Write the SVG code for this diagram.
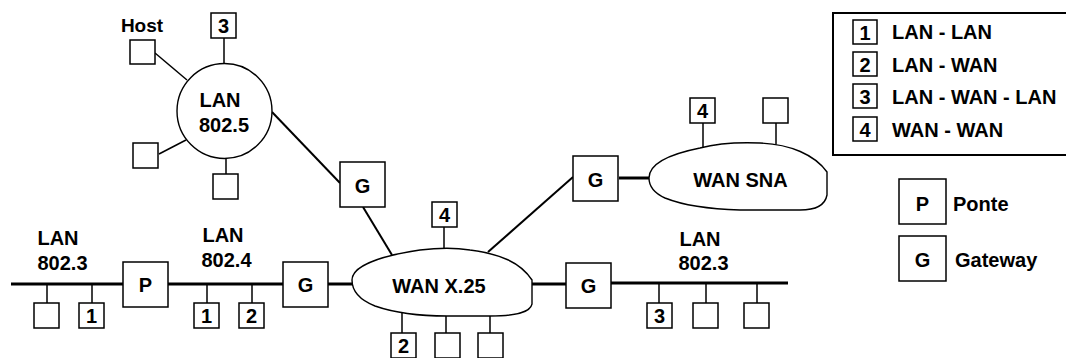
<svg xmlns="http://www.w3.org/2000/svg" width="1066" height="358" viewBox="0 0 1066 358">
<style>
text{font-family:"Liberation Sans",Arial,sans-serif;font-weight:bold;font-size:20px;fill:#000}
.c{text-anchor:middle}
.box{fill:#fff;stroke:#000;stroke-width:1.5}
.stub{stroke:#000;stroke-width:1.5;fill:none}
.bus{stroke:#000;stroke-width:3;fill:none}
.link{stroke:#000;stroke-width:2;fill:none}
.net{fill:#fff;stroke:#000;stroke-width:1.4}
</style>
<rect width="1066" height="358" fill="#fff"/>
<g id="connectors">
<line class="stub" x1="224" y1="38" x2="224" y2="63"/>
<line class="stub" x1="155" y1="53" x2="187" y2="80"/>
<line class="stub" x1="159" y1="154" x2="186" y2="140"/>
<line class="stub" x1="226" y1="159" x2="226" y2="174"/>
<line class="stub" x1="47" y1="284" x2="47" y2="303"/>
<line class="stub" x1="92" y1="284" x2="92" y2="303"/>
<line class="stub" x1="207" y1="284" x2="207" y2="303"/>
<line class="stub" x1="252" y1="284" x2="252" y2="303"/>
<line class="stub" x1="444" y1="227" x2="444" y2="249"/>
<line class="stub" x1="402" y1="313" x2="402" y2="333"/>
<line class="stub" x1="446" y1="315" x2="446" y2="333"/>
<line class="stub" x1="490" y1="315" x2="490" y2="333"/>
<line class="stub" x1="703" y1="123" x2="703" y2="148"/>
<line class="stub" x1="776" y1="123" x2="776" y2="145"/>
<line class="stub" x1="659" y1="283" x2="659" y2="303"/>
<line class="stub" x1="706" y1="283" x2="706" y2="303"/>
<line class="stub" x1="757" y1="283" x2="757" y2="303"/>
<line class="bus" x1="11" y1="284" x2="123" y2="284"/>
<line class="bus" x1="168" y1="284" x2="283" y2="284"/>
<line class="bus" x1="328" y1="284" x2="353" y2="284"/>
<line class="bus" x1="531" y1="284" x2="566" y2="284"/>
<line class="bus" x1="611" y1="283" x2="788" y2="283"/>
<line class="bus" x1="619" y1="178" x2="650" y2="178"/>
<line class="link" x1="272" y1="112" x2="340" y2="183"/>
<line class="link" x1="363" y1="207" x2="392" y2="255"/>
<line class="link" x1="488" y1="252" x2="573" y2="177"/>
</g>
<g id="lan8025">
<circle class="net" cx="224.5" cy="111" r="47.5"/>
<text class="c" x="220" y="107">LAN</text>
<text class="c" x="224" y="132">802.5</text>
</g>
<g id="host">
<text class="c" x="142" y="32" style="font-size:19px">Host</text>
<rect class="box" x="130" y="40" width="25" height="24"/>
</g>
<g id="ring-station-3"><rect class="box" x="211" y="13" width="25" height="25"/><text class="c" x="223.5" y="33">3</text></g>
<g id="ring-station-a"><rect class="box" x="133" y="143" width="25" height="25"/></g>
<g id="ring-station-b"><rect class="box" x="213" y="174" width="25" height="25"/></g>
<g id="gateway-ring"><rect class="box" x="340" y="162" width="45" height="45"/><text class="c" x="362.5" y="193">G</text></g>
<g id="lan8023-left-label"><text class="c" x="58" y="245">LAN</text><text class="c" x="62.5" y="270">802.3</text></g>
<g id="lan8024-label"><text class="c" x="223" y="242">LAN</text><text class="c" x="226.5" y="267">802.4</text></g>
<g id="lan8023-right-label"><text class="c" x="700" y="246">LAN</text><text class="c" x="703.5" y="270">802.3</text></g>
<g id="station-l1"><rect class="box" x="34" y="303" width="25" height="25"/></g>
<g id="station-l2"><rect class="box" x="79" y="303" width="25" height="25"/><text class="c" x="91.5" y="323">1</text></g>
<g id="bridge"><rect class="box" x="123" y="262" width="45" height="45"/><text class="c" x="145.5" y="292">P</text></g>
<g id="station-m1"><rect class="box" x="194" y="303" width="25" height="25"/><text class="c" x="206.5" y="323">1</text></g>
<g id="station-m2"><rect class="box" x="239" y="303" width="25" height="25"/><text class="c" x="251.5" y="323">2</text></g>
<g id="gateway-8024"><rect class="box" x="283" y="262" width="45" height="45"/><text class="c" x="305.5" y="292">G</text></g>
<g id="wan-x25">
<path class="net" d="M352,280 C352,266 380,256 420,250 C436,248 452,247 470,250 C500,254 520,262 532,280 L532,304 C530,313 515,316 490,316 L447,316 C420,316 395,313 375,306 C360,300 352,292 352,280 Z"/>
<text class="c" x="439" y="293">WAN X.25</text>
</g>
<g id="x25-station-4"><rect class="box" x="432" y="202" width="25" height="25"/><text class="c" x="444.5" y="222">4</text></g>
<g id="x25-station-2"><rect class="box" x="391" y="333" width="25" height="25"/><text class="c" x="403.5" y="353">2</text></g>
<g id="x25-station-a"><rect class="box" x="435" y="333" width="25" height="25"/></g>
<g id="x25-station-b"><rect class="box" x="478" y="333" width="25" height="25"/></g>
<g id="gateway-sna"><rect class="box" x="573" y="156" width="45" height="45"/><text class="c" x="595.5" y="187">G</text></g>
<g id="wan-sna">
<path class="net" d="M649,178 C649,165 665,155 700,148 C715,144 735,142 760,143 C790,144 815,155 827,172 L827,195 C825,206 815,210 800,210 L740,210 C705,209 680,204 665,198 C654,193 649,186 649,178 Z"/>
<text class="c" x="740.5" y="187">WAN SNA</text>
</g>
<g id="sna-station-4"><rect class="box" x="690" y="98" width="25" height="25"/><text class="c" x="702.5" y="118">4</text></g>
<g id="sna-station-a"><rect class="box" x="763" y="98" width="25" height="25"/></g>
<g id="gateway-8023"><rect class="box" x="566" y="263" width="45" height="45"/><text class="c" x="588.5" y="293">G</text></g>
<g id="station-r1"><rect class="box" x="647" y="303" width="25" height="25"/><text class="c" x="659.5" y="323">3</text></g>
<g id="station-r2"><rect class="box" x="693" y="303" width="25" height="25"/></g>
<g id="station-r3"><rect class="box" x="744" y="303" width="25" height="25"/></g>
<g id="legend">
<rect x="833" y="13" width="250" height="142" fill="#fff" stroke="#000" stroke-width="2"/>
<rect class="box" x="853" y="20" width="24" height="24"/><text class="c" x="865" y="40">1</text><text x="892" y="39">LAN - LAN</text>
<rect class="box" x="853" y="52" width="24" height="24"/><text class="c" x="865" y="72">2</text><text x="892" y="72">LAN - WAN</text>
<rect class="box" x="853" y="84" width="24" height="24"/><text class="c" x="865" y="104">3</text><text x="892" y="104">LAN - WAN - LAN</text>
<rect class="box" x="853" y="117" width="24" height="24"/><text class="c" x="865" y="137">4</text><text x="892" y="137">WAN - WAN</text>
</g>
<g id="legend-bridge"><rect class="box" x="899" y="179" width="47" height="45"/><text class="c" x="922.5" y="211">P</text><text x="953" y="211">Ponte</text></g>
<g id="legend-gateway"><rect class="box" x="899" y="236" width="47" height="45"/><text class="c" x="922.5" y="267">G</text><text x="955" y="267">Gateway</text></g>
</svg>
